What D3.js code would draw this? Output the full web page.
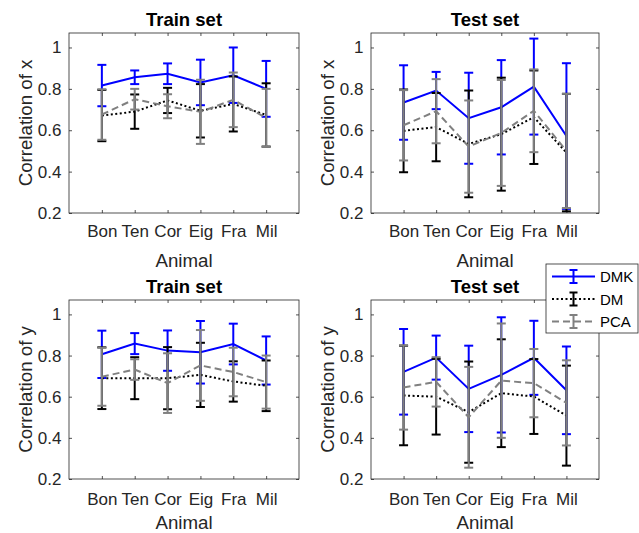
<!DOCTYPE html>
<html>
<head>
<meta charset="utf-8">
<script src="https://cdn.jsdelivr.net/npm/d3@7"></script>
<style>
  body { margin: 0; background: white; }
  svg { display: block; }
  text { font-family: Arial, "Liberation Sans", Helvetica, sans-serif; }
</style>
</head>
<body>
<div id="chart"></div>
<script>
// Categories and ticks
const animals = ["Bon", "Ten", "Cor", "Eig", "Fra", "Mil"];
const yTicks = [0.2, 0.4, 0.6, 0.8, 1];

// Train set, x
const trainXDmk = [0.816, 0.856, 0.873, 0.831, 0.866, 0.800];
const trainXDmkErr = [0.100, 0.033, 0.050, 0.110, 0.134, 0.135];
const trainXDm = [0.671, 0.690, 0.744, 0.694, 0.727, 0.674];
const trainXDmErr = [0.124, 0.083, 0.061, 0.129, 0.133, 0.153];
const trainXPca = [0.676, 0.750, 0.716, 0.689, 0.747, 0.660];
const trainXPcaErr = [0.122, 0.050, 0.058, 0.155, 0.132, 0.140];

// Test set, x
const testXDmk = [0.734, 0.792, 0.658, 0.711, 0.811, 0.572];
const testXDmkErr = [0.180, 0.090, 0.220, 0.228, 0.232, 0.352];
const testXDm = [0.597, 0.615, 0.534, 0.581, 0.663, 0.492];
const testXDmErr = [0.200, 0.165, 0.258, 0.273, 0.226, 0.284];
const testXPca = [0.624, 0.692, 0.521, 0.587, 0.694, 0.500];
const testXPcaErr = [0.170, 0.155, 0.223, 0.256, 0.200, 0.276];

// Train set, y
const trainYDmk = [0.806, 0.858, 0.824, 0.816, 0.856, 0.776];
const trainYDmkErr = [0.115, 0.051, 0.098, 0.152, 0.099, 0.117];
const trainYDm = [0.690, 0.690, 0.690, 0.706, 0.674, 0.653];
const trainYDmErr = [0.150, 0.102, 0.151, 0.156, 0.098, 0.123];
const trainYPca = [0.697, 0.732, 0.666, 0.752, 0.720, 0.671];
const trainYPcaErr = [0.141, 0.050, 0.145, 0.172, 0.118, 0.129];

// Test set, y
const testYDmk = [0.721, 0.790, 0.638, 0.706, 0.789, 0.631];
const testYDmkErr = [0.208, 0.107, 0.210, 0.280, 0.180, 0.213];
const testYDm = [0.606, 0.600, 0.525, 0.617, 0.601, 0.508];
const testYDmErr = [0.242, 0.184, 0.246, 0.262, 0.182, 0.243];
const testYPca = [0.645, 0.672, 0.500, 0.678, 0.666, 0.570];
const testYPcaErr = [0.205, 0.120, 0.245, 0.278, 0.166, 0.207];

const width = 639, height = 533;
const axisColor = "#262626";

const styles = {
    DMK: { color: "#0000ff", dash: null, width: 2 },
    DM: { color: "#000000", dash: "2,2.5", width: 2 },
    PCA: { color: "#808080", dash: "7,4", width: 2 }
};

const panels = [
    { title: "Train set", ylabel: "Correlation of x", left: 69, right: 299, top: 33, bottom: 213, tickY: 24, labelY: 54,
      series: [["DMK", trainXDmk, trainXDmkErr], ["DM", trainXDm, trainXDmErr], ["PCA", trainXPca, trainXPcaErr]] },
    { title: "Test set", ylabel: "Correlation of x", left: 371, right: 599, top: 33, bottom: 213, tickY: 24, labelY: 54,
      series: [["DMK", testXDmk, testXDmkErr], ["DM", testXDm, testXDmErr], ["PCA", testXPca, testXPcaErr]] },
    { title: "Train set", ylabel: "Correlation of y", left: 69, right: 299, top: 300, bottom: 479, tickY: 26, labelY: 50,
      series: [["DMK", trainYDmk, trainYDmkErr], ["DM", trainYDm, trainYDmErr], ["PCA", trainYPca, trainYPcaErr]] },
    { title: "Test set", ylabel: "Correlation of y", left: 371, right: 599, top: 300, bottom: 479, tickY: 26, labelY: 50,
      series: [["DMK", testYDmk, testYDmkErr], ["DM", testYDm, testYDmErr], ["PCA", testYPca, testYPcaErr]] }
];

const svg = d3.select("#chart")
    .append("svg")
    .attr("width", width)
    .attr("height", height)
    .style("background", "white");

panels.forEach(function(p, pi) {
    const xScale = d3.scaleLinear().domain([0, 7]).range([p.left, p.right]);
    const yScale = d3.scaleLinear().domain([0.2, 1.07]).range([p.bottom, p.top]);
    const capW = 4.5;

    const clipId = "clip" + pi;
    svg.append("clipPath").attr("id", clipId)
        .append("rect")
        .attr("x", p.left).attr("y", p.top)
        .attr("width", p.right - p.left).attr("height", p.bottom - p.top);

    // axes with inward ticks, box on
    const xTickVals = animals.map((d, i) => i + 1);
    const xAxis = d3.axisBottom(xScale).tickValues(xTickVals)
        .tickFormat((d, i) => animals[i]).tickSizeInner(-3).tickSizeOuter(0).tickPadding(0);
    const yAxis = d3.axisLeft(yScale).tickValues(yTicks)
        .tickFormat(d => d === 1 ? "1" : d3.format(".1f")(d)).tickSizeInner(-3).tickSizeOuter(0).tickPadding(7.5);

    const gx = svg.append("g").attr("transform", `translate(0,${p.bottom})`).call(xAxis);
    const gy = svg.append("g").attr("transform", `translate(${p.left},0)`).call(yAxis);
    const gxTop = svg.append("g").attr("transform", `translate(0,${p.top})`)
        .call(d3.axisTop(xScale).tickValues(xTickVals).tickFormat("").tickSizeInner(-3).tickSizeOuter(0));
    const gyRight = svg.append("g").attr("transform", `translate(${p.right},0)`)
        .call(d3.axisRight(yScale).tickValues(yTicks).tickFormat("").tickSizeInner(-3).tickSizeOuter(0));

    [gx, gy, gxTop, gyRight].forEach(function(g) {
        g.select(".domain").remove();
        g.selectAll("line").attr("stroke", axisColor).attr("stroke-width", 0.8);
        g.selectAll("text").attr("fill", axisColor).style("font-size", "17px")
            .style("font-family", "Arial, 'Liberation Sans', sans-serif");
    });
    // put x tick labels on a measured baseline
    gx.selectAll("text").attr("y", p.tickY).attr("dy", null);

    svg.append("rect")
        .attr("x", p.left).attr("y", p.top)
        .attr("width", p.right - p.left).attr("height", p.bottom - p.top)
        .attr("fill", "none").attr("stroke", axisColor).attr("stroke-width", 0.8);

    // title
    svg.append("text")
        .text(p.title)
        .attr("x", (p.left + p.right) / 2)
        .attr("y", p.top - 7)
        .attr("text-anchor", "middle")
        .style("font-size", "18.5px")
        .style("font-weight", "bold")
        .attr("fill", "#000");

    // x label
    svg.append("text")
        .text("Animal")
        .attr("x", (p.left + p.right) / 2)
        .attr("y", p.bottom + p.labelY)
        .attr("text-anchor", "middle")
        .style("font-size", "18.7px")
        .attr("fill", axisColor);

    // y label
    svg.append("text")
        .text(p.ylabel)
        .attr("transform", "rotate(-90)")
        .attr("x", -(p.top + p.bottom) / 2)
        .attr("y", p.left - 37.5)
        .attr("text-anchor", "middle")
        .style("font-size", "18.7px")
        .attr("fill", axisColor);

    const plot = svg.append("g").attr("clip-path", `url(#${clipId})`);

    p.series.forEach(function(s) {
        const st = styles[s[0]];
        const vals = s[1], errs = s[2];

        // error bars
        vals.forEach(function(v, i) {
            const x = xScale(i + 1);
            const y1 = yScale(v - errs[i]);
            const y2 = yScale(v + errs[i]);
            const g = plot.append("g").attr("stroke", st.color).attr("stroke-width", st.width);
            g.append("line").attr("x1", x).attr("x2", x).attr("y1", y1).attr("y2", y2);
            g.append("line").attr("x1", x - capW).attr("x2", x + capW).attr("y1", y1).attr("y2", y1);
            g.append("line").attr("x1", x - capW).attr("x2", x + capW).attr("y1", y2).attr("y2", y2);
        });

        // mean line
        const line = d3.line().x((d, i) => xScale(i + 1)).y(d => yScale(d));
        plot.append("path")
            .datum(vals)
            .attr("d", line)
            .attr("fill", "none")
            .attr("stroke", st.color)
            .attr("stroke-width", st.width)
            .attr("stroke-dasharray", st.dash);
    });
});

// Legend
const legend = svg.append("g");
const lx = 546, ly = 264, lw = 92, lh = 69;
legend.append("rect")
    .attr("x", lx).attr("y", ly).attr("width", lw).attr("height", lh)
    .attr("fill", "white").attr("stroke", axisColor).attr("stroke-width", 0.8);

["DMK", "DM", "PCA"].forEach(function(name, i) {
    const st = styles[name];
    const cy = ly + 12.5 + i * 22.5;
    const x0 = lx + 6, x1 = lx + 49, xm = (x0 + x1) / 2;
    legend.append("line")
        .attr("x1", x0).attr("x2", x1).attr("y1", cy).attr("y2", cy)
        .attr("stroke", st.color).attr("stroke-width", st.width)
        .attr("stroke-dasharray", st.dash);
    const g = legend.append("g").attr("stroke", st.color).attr("stroke-width", st.width);
    g.append("line").attr("x1", xm).attr("x2", xm).attr("y1", cy - 6.5).attr("y2", cy + 6.5);
    g.append("line").attr("x1", xm - 4).attr("x2", xm + 4).attr("y1", cy - 6.5).attr("y2", cy - 6.5);
    g.append("line").attr("x1", xm - 4).attr("x2", xm + 4).attr("y1", cy + 6.5).attr("y2", cy + 6.5);
    legend.append("text")
        .text(name)
        .attr("x", x1 + 5)
        .attr("y", cy + 5.5)
        .style("font-size", "15px")
        .attr("fill", "#000");
});
</script>
</body>
</html>
